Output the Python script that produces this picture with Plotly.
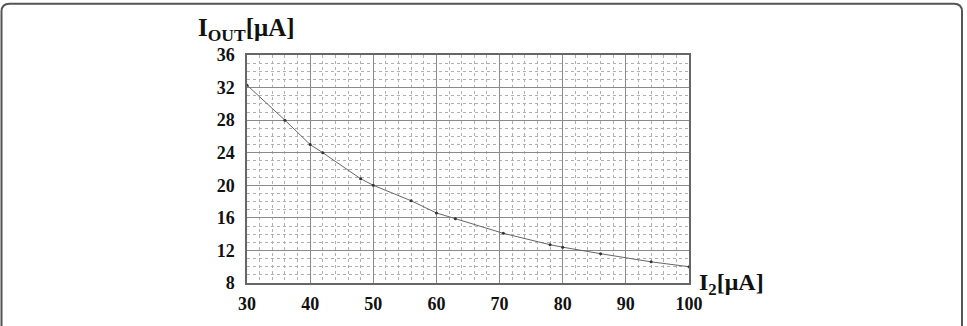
import plotly.graph_objects as go

# Data
i2_values = [30, 36, 40, 42, 48, 50, 56, 60, 63, 70.6, 78, 80, 86, 94, 100]
iout_values = [32.3, 28.0, 25.0, 24.0, 20.8, 20.0, 18.1, 16.6, 15.9, 14.1, 12.7, 12.4, 11.6, 10.6, 10.0]
x_ticks = [30, 40, 50, 60, 70, 80, 90, 100]
y_ticks = [8, 12, 16, 20, 24, 28, 32, 36]

W, H = 967, 326
L, R, T, B = 247, 967 - 689, 55, 326 - 289
pw, ph = W - L - R, H - T - B

tick_font = dict(family="Liberation Serif", size=18, color="#111")

fig = go.Figure()
fig.add_trace(go.Scatter(
    x=i2_values, y=iout_values, mode="lines+markers",
    line=dict(color="#666", width=1),
    marker=dict(size=3, color="#333"),
    showlegend=False, hoverinfo="skip",
))

def px2x(px):
    return (px - L) / pw

def py2y(py):
    return (H - B - py) / ph

# Rounded frame around the picture
x0, x1 = px2x(1.5), px2x(962.0)
y0, y1 = py2y(345), py2y(2.5)
rx, ry = 8 / pw, 8 / ph
frame_path = (f"M {x0},{y0} L {x0},{y1 - ry} Q {x0},{y1} {x0 + rx},{y1} "
              f"L {x1 - rx},{y1} Q {x1},{y1} {x1},{y1 - ry} L {x1},{y0}")

fig.update_layout(
    width=W, height=H,
    margin=dict(l=L, r=R, t=T, b=B),
    paper_bgcolor="white", plot_bgcolor="white",
    xaxis=dict(
        range=[30, 100], tickvals=x_ticks, ticktext=[f"<b>{v}</b>" for v in x_ticks],
        tickfont=tick_font, showgrid=True, gridcolor="#8a8a8a", gridwidth=1.2,
        minor=dict(dtick=2, showgrid=True, gridcolor="#b0b0b0", griddash="dot", gridwidth=1),
        showline=True, linecolor="#666", linewidth=1.5, mirror=True,
        zeroline=False, ticks="", ticklabelstandoff=4,
    ),
    yaxis=dict(
        range=[8, 36], tickvals=y_ticks, ticktext=[f"<b>{v}</b>" for v in y_ticks],
        tickfont=tick_font, showgrid=True, gridcolor="#8a8a8a", gridwidth=1.2,
        minor=dict(dtick=1, showgrid=True, gridcolor="#b0b0b0", griddash="dot", gridwidth=1),
        showline=True, linecolor="#666", linewidth=1.5, mirror=True,
        zeroline=False, ticks="", ticklabelstandoff=7,
    ),
    shapes=[dict(type="path", path=frame_path, xref="paper", yref="paper",
                 line=dict(color="#555", width=2), layer="above")],
    annotations=[
        dict(text="<b>I<sub>OUT</sub>[μA]</b>", xref="paper", yref="paper",
             x=px2x(196), y=py2y(29), xanchor="left", yanchor="middle",
             showarrow=False, font=dict(family="Liberation Serif", size=25, color="#111")),
        dict(text="<b>I<sub>2</sub>[μA]</b>", xref="paper", yref="paper",
             x=px2x(697), y=py2y(290), xanchor="left", yanchor="middle",
             showarrow=False, font=dict(family="Liberation Serif", size=24, color="#111")),
    ],
)

fig.write_html("out.html")
